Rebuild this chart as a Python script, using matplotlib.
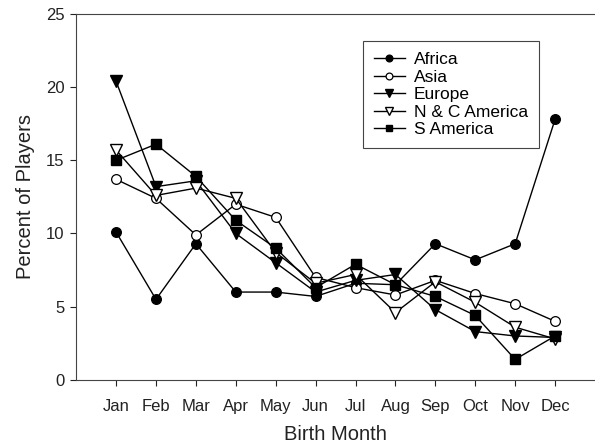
import matplotlib.pyplot as plt

plt.rcParams['font.family'] = ['Liberation Sans', 'DejaVu Sans']

months = ["Jan", "Feb", "Mar", "Apr", "May", "Jun",
          "Jul", "Aug", "Sep", "Oct", "Nov", "Dec"]
x = list(range(1, 13))

africa = [10.1, 5.5, 9.3, 6.0, 6.0, 5.7, 6.6, 6.5, 9.3, 8.2, 9.3, 17.8]
asia = [13.7, 12.4, 9.9, 12.0, 11.1, 7.0, 6.3, 5.8, 6.8, 5.9, 5.2, 4.0]
europe = [20.4, 13.2, 13.6, 10.0, 8.0, 6.0, 6.8, 7.2, 4.8, 3.3, 3.0, 2.9]
nc_america = [15.7, 12.6, 13.1, 12.4, 8.7, 6.6, 7.2, 4.6, 6.7, 5.3, 3.6, 2.8]
s_america = [15.0, 16.1, 13.9, 10.9, 9.0, 6.3, 7.9, 6.5, 5.7, 4.4, 1.4, 3.0]

fig = plt.figure(figsize=(5.95, 4.48), dpi=100)
ax = fig.add_axes([0.128, 0.152, 0.872, 0.817])

common = dict(color='black', linewidth=1, markersize=7, markeredgewidth=0.9)
ax.plot(x, africa, marker='o', markerfacecolor='black', label="Africa", **common)
ax.plot(x, asia, marker='o', markerfacecolor='white', label="Asia", **common)
ax.plot(x, europe, marker='v', markerfacecolor='black', markersize=8,
        color='black', linewidth=1, label="Europe")
ax.plot(x, nc_america, marker='v', markerfacecolor='white', markersize=8,
        color='black', linewidth=1, label="N & C America")
ax.plot(x, s_america, marker='s', markerfacecolor='black', markersize=6.5,
        color='black', linewidth=1, label="S America")

ax.set_xlim(0, 13)
ax.set_ylim(0, 25)
ax.set_xticks(x)
ax.set_xticklabels(months)
ax.set_yticks([0, 5, 10, 15, 20, 25])
ax.tick_params(labelsize=12, length=4.5, width=0.8, colors='#222222')
ax.tick_params(axis='x', pad=9)
ax.tick_params(axis='y', pad=4)
ax.set_xlabel("Birth Month", fontsize=14.5, labelpad=8, color='#222222')
ax.set_ylabel("Percent of Players", fontsize=14.5, labelpad=8, color='#222222')

ax.spines['right'].set_visible(False)
for s in ['top', 'left', 'bottom']:
    ax.spines[s].set_linewidth(0.8)
    ax.spines[s].set_color('#444444')

leg = ax.legend(loc='upper left', bbox_to_anchor=(0.552, 0.926), fontsize=12.5,
                fancybox=False, framealpha=1, edgecolor='#444444',
                handlelength=1.8, markerscale=0.7, labelspacing=0.13,
                borderpad=0.65, handletextpad=0.5, borderaxespad=0)
leg.get_frame().set_linewidth(0.8)

plt.savefig("out.png", dpi=100)
